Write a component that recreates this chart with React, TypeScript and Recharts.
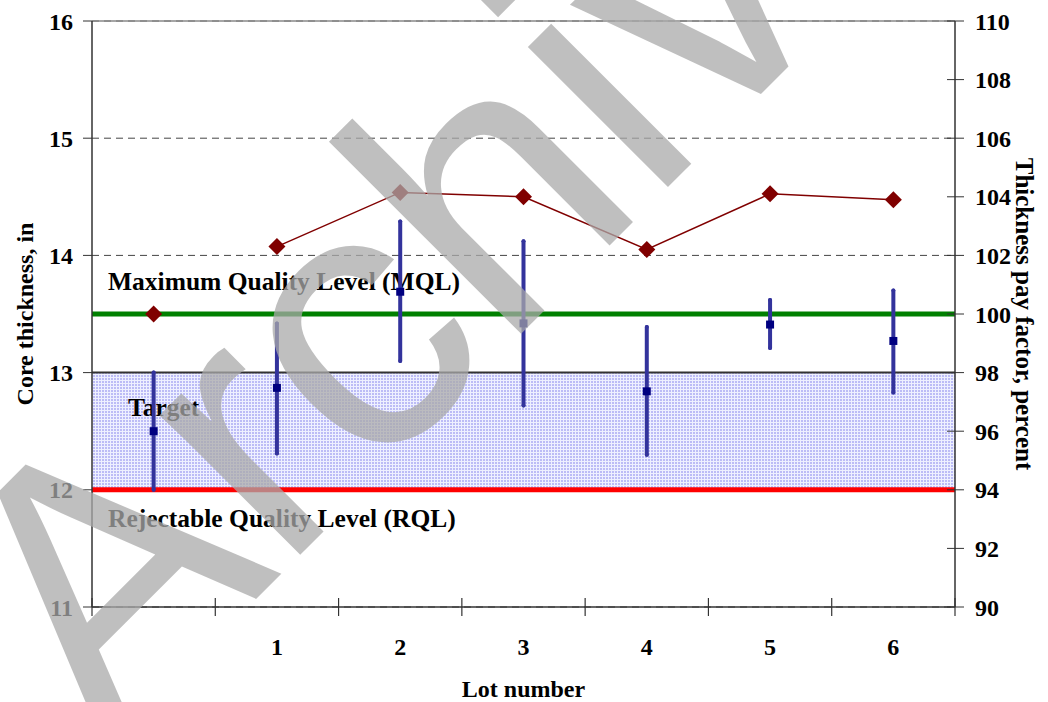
import React from 'react'
import {
  ComposedChart,
  Line,
  Scatter,
  ErrorBar,
  XAxis,
  YAxis,
  CartesianGrid,
  ReferenceLine,
  ReferenceArea,
} from 'recharts'

// Lot labels (first slot is the reference column with no lot number)
const lots = ['', '1', '2', '3', '4', '5', '6']
// Core thickness, in: mean and range per lot
const coreMean = [12.5, 12.87, 13.69, 13.42, 12.84, 13.41, 13.27]
const coreLow = [12.0, 12.31, 13.1, 12.72, 12.3, 13.21, 12.83]
const coreHigh = [13.0, 13.42, 14.29, 14.12, 13.39, 13.62, 13.7]
// Thickness pay factor, percent
const payFactor: (number | null)[] = [null, 102.3, 104.15, 104.0, 102.2, 104.1, 103.9]
const mqlPay = [{ lot: 0, pay: 100 }]

// Quality levels
const MQL = 13.5
const RQL = 12
const TARGET_TOP = 13

const coreTicks = [11, 12, 13, 14, 15, 16]
const payTicks = [90, 92, 94, 96, 98, 100, 102, 104, 106, 108, 110]
const lotEdges = [-0.5, 0.5, 1.5, 2.5, 3.5, 4.5, 5.5, 6.5]
const lotTicks = [1, 2, 3, 4, 5, 6]

const data = lots.map((_, i) => ({
  lot: i,
  mean: coreMean[i],
  err: [coreMean[i] - coreLow[i], coreHigh[i] - coreMean[i]],
  pay: payFactor[i],
}))

const FONT = 'Liberation Serif, Times New Roman, serif'
const tickStyle = { fontSize: 24, fontWeight: 'bold', fill: '#000', fontFamily: FONT }
const titleStyle = { fontSize: 24, fontWeight: 'bold', fill: '#000', fontFamily: FONT }
const noteStyle = { ...titleStyle, fontSize: 25.5 }

// half-length of the lot divider ticks, in core-thickness units
const EDGE_TICK = 0.077

const Diamond = (props: any) => {
  const { cx, cy } = props
  if (cx == null || cy == null || isNaN(cy)) return null
  const r = 8.5
  return (
    <polygon
      points={`${cx},${cy - r} ${cx + r},${cy} ${cx},${cy + r} ${cx - r},${cy}`}
      fill="#800000"
    />
  )
}

const MeanSquare = (props: any) => {
  const { cx, cy } = props
  if (cx == null || cy == null) return null
  return <rect x={cx - 4} y={cy - 4} width={8} height={8} fill="#000080" />
}

// text placed relative to a reference element's box
const note = (text: string, dx: number, dy: number) => (props: any) => {
  const vb = props.viewBox || {}
  return (
    <text x={vb.x + dx} y={vb.y + dy} style={noteStyle}>
      {text}
    </text>
  )
}

export default function App() {
  return (
    <div
      style={{
        position: 'absolute',
        left: 0,
        top: 0,
        width: 1048,
        height: 702,
        background: '#fff',
        overflow: 'hidden',
        fontFamily: FONT,
      }}
    >
      <svg width={0} height={0} style={{ position: 'absolute' }}>
        <defs>
          <pattern id="targetHatch" width={3} height={3} patternUnits="userSpaceOnUse">
            <rect x={0} y={0} width={3} height={3} fill="#eef0ff" />
            <rect x={0} y={0} width={2} height={2} fill="#bcbcf6" />
          </pattern>
        </defs>
      </svg>

      <ComposedChart
        width={1048}
        height={702}
        data={data}
        margin={{ top: 21, right: 0, bottom: 0, left: 0 }}
      >
        <XAxis
          xAxisId="lot"
          dataKey="lot"
          type="number"
          domain={[-0.5, 6.5]}
          allowDataOverflow
          ticks={lotTicks}
          tickFormatter={(v: number) => lots[v]}
          tick={tickStyle}
          tickLine={false}
          tickSize={0}
          tickMargin={31}
          axisLine={{ stroke: '#333', strokeWidth: 1.5 }}
          height={95}
          label={{ value: 'Lot number', position: 'insideBottom', offset: 5, style: titleStyle }}
        />
        <YAxis
          yAxisId="core"
          domain={[11, 16]}
          ticks={coreTicks}
          allowDataOverflow
          width={92}
          tick={tickStyle}
          tickSize={9}
          tickMargin={10}
          tickLine={{ stroke: '#333' }}
          axisLine={{ stroke: '#333', strokeWidth: 1.5 }}
          label={{
            value: 'Core thickness, in',
            angle: -90,
            position: 'insideLeft',
            offset: 24,
            style: { ...titleStyle, textAnchor: 'middle' },
          }}
        />
        <YAxis
          yAxisId="pay"
          orientation="right"
          domain={[90, 110]}
          ticks={payTicks}
          allowDataOverflow
          width={93}
          tick={{ ...tickStyle, textAnchor: 'start' }}
          tickSize={17}
          tickMargin={3}
          tickLine={{ stroke: '#333', transform: 'translate(-8,0)' }}
          axisLine={{ stroke: '#333', strokeWidth: 1.5 }}
          label={{
            value: 'Thickness pay factor, percent',
            angle: 90,
            position: 'insideRight',
            offset: 23,
            style: { ...titleStyle, fontSize: 25, textAnchor: 'middle' },
          }}
        />

        <ReferenceArea
          xAxisId="lot"
          yAxisId="core"
          y1={RQL}
          y2={TARGET_TOP}
          fill="url(#targetHatch)"
          fillOpacity={1}
          stroke="none"
          label={{ content: note('Target', 36, 43) }}
        />
        <CartesianGrid
          xAxisId="lot"
          yAxisId="core"
          vertical={false}
          stroke="#444"
          strokeDasharray="7 5"
        />
        <ReferenceLine xAxisId="lot" yAxisId="core" y={16} stroke="#888" strokeWidth={1.5} />
        <ReferenceLine xAxisId="lot" yAxisId="core" y={TARGET_TOP} stroke="#333" strokeWidth={2} />
        <ReferenceLine
          xAxisId="lot"
          yAxisId="core"
          y={RQL}
          stroke="#ff0000"
          strokeWidth={5}
          label={{ content: note('Rejectable Quality Level (RQL)', 16, 37) }}
        />
        <ReferenceLine
          xAxisId="lot"
          yAxisId="core"
          y={MQL}
          stroke="#008000"
          strokeWidth={5}
          label={{ content: note('Maximum Quality Level (MQL)', 16, -24) }}
        />

        {/* divider ticks between lots, crossing the bottom axis */}
        {lotEdges.map((b) => (
          <ReferenceLine
            key={b}
            xAxisId="lot"
            yAxisId="core"
            segment={[
              { x: b, y: 11 - EDGE_TICK },
              { x: b, y: 11 + EDGE_TICK },
            ]}
            stroke="#333"
            strokeWidth={1.2}
            ifOverflow="visible"
          />
        ))}

        <Scatter
          xAxisId="lot"
          yAxisId="core"
          dataKey="mean"
          shape={<MeanSquare />}
          isAnimationActive={false}
        >
          <ErrorBar
            dataKey="err"
            direction="y"
            width={0}
            stroke="#33339c"
            strokeWidth={4}
            strokeLinecap="round"
          />
        </Scatter>

        <Line
          xAxisId="lot"
          yAxisId="pay"
          type="linear"
          dataKey="pay"
          stroke="#800000"
          strokeWidth={1.5}
          dot={<Diamond />}
          activeDot={false}
          isAnimationActive={false}
        />
        <Scatter
          xAxisId="lot"
          yAxisId="pay"
          data={mqlPay}
          dataKey="pay"
          shape={<Diamond />}
          isAnimationActive={false}
        />
      </ComposedChart>

      {/* diagonal archive stamp over the whole figure */}
      <svg
        width={1048}
        height={702}
        style={{ position: 'absolute', left: 0, top: 0, pointerEvents: 'none' }}
      >
        <text
          x={105}
          y={750}
          transform="rotate(-45 105 750)"
          fontFamily="Liberation Sans, Arial, sans-serif"
          fontSize={375}
          fill="#aaaaaa"
          fillOpacity={0.75}
        >
          Archived
        </text>
      </svg>
    </div>
  )
}
